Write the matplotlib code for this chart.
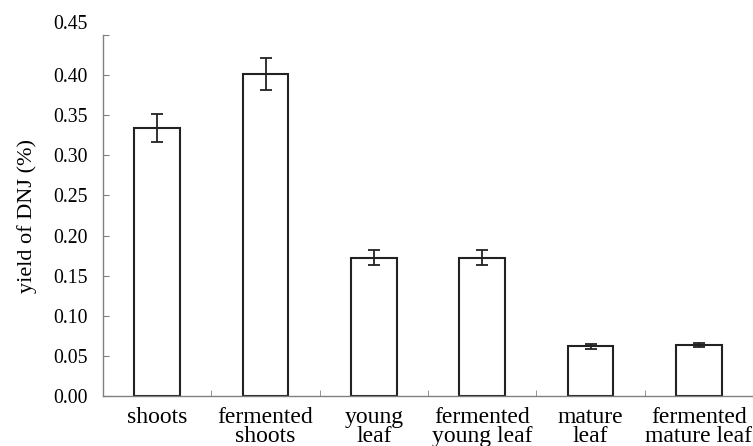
import matplotlib.pyplot as plt
import matplotlib.transforms as mtransforms
import numpy as np

plt.rcParams['font.family'] = ['Liberation Serif', 'DejaVu Serif']

categories = ["shoots", "fermented\nshoots", "young\nleaf", "fermented\nyoung leaf",
              "mature\nleaf", "fermented\nmature leaf"]
yields = [0.334, 0.401, 0.1725, 0.1725, 0.062, 0.0636]
errors = [0.0177, 0.020, 0.009, 0.009, 0.003, 0.003]
yticks = [0.00, 0.05, 0.10, 0.15, 0.20, 0.25, 0.30, 0.35, 0.40, 0.45]

fig = plt.figure(figsize=(7.53, 4.46), dpi=100)
ax = fig.add_axes([0.1368, 0.1121, 0.8632, 0.8094])

x = np.arange(len(categories))
ax.bar(x, yields, width=0.42, color='white', edgecolor='#222222', linewidth=1.5,
       yerr=errors, error_kw=dict(ecolor='#222222', elinewidth=1.3, capsize=4.3, capthick=1.3))

ax.set_xlim(-0.5, len(categories) - 0.5)
ax.set_ylim(0, 0.45)
ax.set_yticks(yticks)
ax.set_yticklabels([f"{t:.2f}" for t in yticks], fontsize=14.2)
ax.set_xticks(x)
ax.set_xticklabels(categories, fontsize=17, linespacing=0.84)
ax.set_xticks(np.arange(len(categories) + 1) - 0.5, minor=True)
ax.tick_params(axis='x', which='major', length=0, pad=8)
ax.tick_params(axis='x', which='minor', direction='in', length=4, color='#808080')
ax.tick_params(axis='y', direction='in', length=4, color='#808080', pad=11)
ax.set_ylabel("yield of DNJ (%)", fontsize=16, labelpad=12)

for side in ['top', 'right']:
    ax.spines[side].set_visible(False)
for side in ['left', 'bottom']:
    ax.spines[side].set_color('#808080')
    ax.spines[side].set_linewidth(1.0)

# the top label sits a bit higher in the original
lbl = ax.get_yticklabels()[-1]
lbl.set_transform(lbl.get_transform() + mtransforms.ScaledTranslation(0, 13 / 100, fig.dpi_scale_trans))

fig.savefig("out.png", dpi=100)
